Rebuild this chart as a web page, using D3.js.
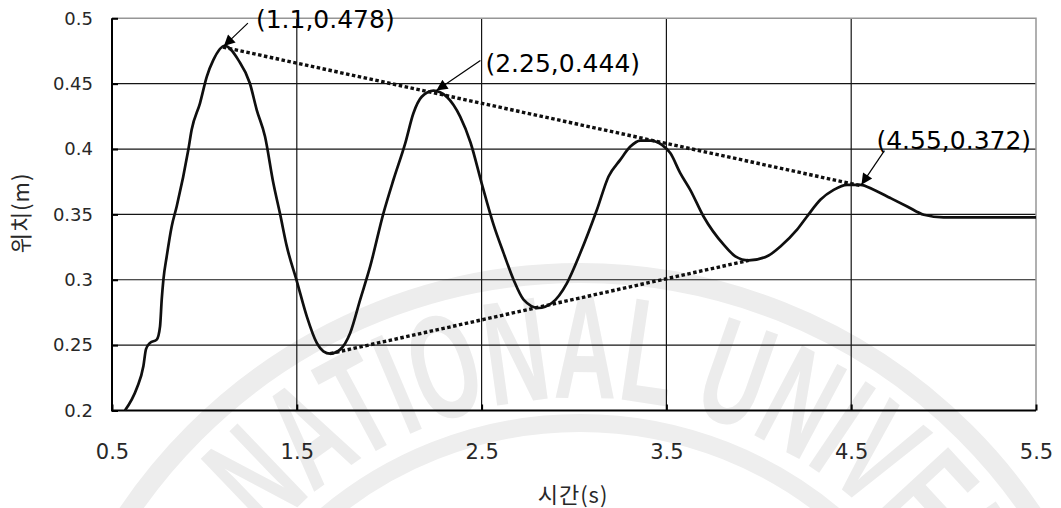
<html>
<head>
<meta charset="utf-8">
<script src="https://d3js.org/d3.v7.min.js"></script>
<style>
body { margin: 0; background: #fff; }
</style>
</head>
<body>
<div id="chart"><svg width="1061" height="508"></svg></div>
<script>

// measured position of the weight (m) against time (s)
var timeData = [0.57, 0.634, 0.67, 0.684, 0.706, 0.742, 0.76, 0.769, 0.778, 0.796, 0.823, 0.85,
	0.913, 0.931, 0.976, 1.013, 1.048, 1.11, 1.184, 1.246, 1.283, 1.328, 1.373, 1.41, 1.446,
	1.5, 1.554, 1.608, 1.644, 1.68, 1.734, 1.789, 1.843, 1.897, 1.969, 2.023, 2.087, 2.131,
	2.176, 2.24, 2.311, 2.384, 2.44, 2.5, 2.565, 2.619, 2.673, 2.727, 2.808, 2.88, 2.962,
	3.034, 3.124, 3.187, 3.25, 3.305, 3.359, 3.413, 3.476, 3.521, 3.575, 3.629, 3.701, 3.81,
	3.873, 3.945, 4.053, 4.117, 4.207, 4.261, 4.333, 4.405, 4.478, 4.55, 4.622, 4.712, 4.803,
	4.893, 5.0, 5.5];
var posData = [0.2, 0.217, 0.234, 0.247, 0.2517, 0.2542, 0.2644, 0.2848, 0.3, 0.3178, 0.3408, 0.356,
	0.3994, 0.4147, 0.435, 0.4554, 0.468, 0.479, 0.468, 0.4503, 0.43, 0.4096, 0.374, 0.35, 0.3255,
	0.299, 0.272, 0.2517, 0.2453, 0.2435, 0.2466, 0.2593, 0.2848, 0.3102, 0.351, 0.3765, 0.4045, 0.4274,
	0.44, 0.4447, 0.44, 0.4248, 0.405, 0.374, 0.342, 0.3204, 0.3, 0.2848, 0.2784, 0.2822, 0.2975,
	0.3204, 0.3535, 0.379, 0.3917, 0.4019, 0.4065, 0.4065, 0.4032, 0.3969, 0.3816, 0.3688, 0.3484, 0.3268,
	0.3179, 0.3148, 0.3186, 0.3255, 0.3383, 0.3484, 0.3612, 0.3688, 0.3726, 0.3726, 0.3688, 0.3625, 0.3561,
	0.3497, 0.3477, 0.3477];

// dotted envelope lines (peaks and valleys)
var upperEnvT = [1.1, 4.55];
var upperEnvV = [0.478, 0.372];
var lowerEnvT = [1.68, 3.945];
var lowerEnvV = [0.2435, 0.3148];

// annotated peaks
var peakT = [1.1, 2.25, 4.55];
var peakV = [0.478, 0.444, 0.372];
var peakLabels = ["(1.1,0.478)", "(2.25,0.444)", "(4.55,0.372)"];

var xTicks = [0.5, 1.5, 2.5, 3.5, 4.5, 5.5];
var yTicks = [0.2, 0.25, 0.3, 0.35, 0.4, 0.45, 0.5];
var xTitle = "시간(s)";
var yTitle = "위치(m)";

drawChart();

function drawChart() {
	var svg = d3.select("#chart").select("svg");
	var plotLeft = 112, plotRight = 1036, plotTop = 18.3, plotBottom = 410.5;
	var tickFont = "'DejaVu Sans', sans-serif";
	var textGray = "rgb(40,40,40)";

	var x = d3.scaleLinear().domain([0.5, 5.5]).range([plotLeft, plotRight]);
	var y = d3.scaleLinear().domain([0.2, 0.5]).range([plotBottom, plotTop]);

	// faint seal watermark in the background
	var wm = svg.append("g").attr("class", "watermark");
	var cx = 580, cy = 818;
	wm.append("circle").attr("cx", cx).attr("cy", cy).attr("r", 545)
		.attr("fill", "none").attr("stroke", "rgb(237,237,237)").attr("stroke-width", 20);
	wm.append("circle").attr("cx", cx).attr("cy", cy).attr("r", 395)
		.attr("fill", "none").attr("stroke", "rgb(238,238,238)").attr("stroke-width", 18);
	var r = 420, a0 = -48 * Math.PI / 180, a1 = 86 * Math.PI / 180;
	wm.append("path")
		.attr("id", "sealArc")
		.attr("fill", "none")
		.attr("d", "M" + (cx + r * Math.sin(a0)) + "," + (cy - r * Math.cos(a0)) +
			" A" + r + "," + r + " 0 0 1 " + (cx + r * Math.sin(a1)) + "," + (cy - r * Math.cos(a1)));
	wm.append("text")
		.attr("font-family", "'Liberation Sans', sans-serif")
		.attr("font-weight", "bold")
		.attr("font-size", 148)
		.attr("fill", "rgb(236,236,236)")
		.append("textPath")
		.attr("href", "#sealArc")
		.attr("textLength", r * (a1 - a0))
		.attr("lengthAdjust", "spacingAndGlyphs")
		.text("NATIONAL UNIVERSITY");

	// horizontal grid
	svg.append("g").selectAll("line")
		.data(yTicks.filter(function (d) { return d > 0.2 && d < 0.5; }))
		.enter().append("line")
		.attr("x1", plotLeft).attr("x2", plotRight)
		.attr("y1", function (d) { return y(d); })
		.attr("y2", function (d) { return y(d); })
		.attr("stroke", "rgb(20,20,20)")
		.attr("stroke-width", 1.2);
	// vertical grid
	svg.append("g").selectAll("line")
		.data(xTicks.filter(function (d) { return d > 0.5 && d < 5.5; }))
		.enter().append("line")
		.attr("x1", function (d) { return x(d); })
		.attr("x2", function (d) { return x(d); })
		.attr("y1", plotTop).attr("y2", plotBottom)
		.attr("stroke", "rgb(20,20,20)")
		.attr("stroke-width", 1.2);

	// top and right border (gray)
	svg.append("path")
		.attr("d", "M" + plotLeft + "," + plotTop + "H" + plotRight + "V" + plotBottom)
		.attr("fill", "none")
		.attr("stroke", "rgb(150,150,150)")
		.attr("stroke-width", 1.5);

	// y axis
	var yAxis = svg.append("g")
		.attr("transform", "translate(" + plotLeft + ",0)")
		.call(d3.axisLeft(y).tickValues(yTicks).tickSize(-6).tickPadding(19)
			.tickFormat(function (d) { return String(d); }));
	yAxis.select(".domain").remove();
	yAxis.selectAll(".tick line").attr("stroke", "#000").attr("stroke-width", 2);
	yAxis.selectAll(".tick text")
		.attr("font-family", tickFont).attr("font-size", 18).attr("fill", textGray);

	// x axis
	var xAxis = svg.append("g")
		.attr("transform", "translate(0," + plotBottom + ")")
		.call(d3.axisBottom(x).tickValues(xTicks).tickSize(-6).tickPadding(34)
			.tickFormat(function (d) { return String(d); }));
	xAxis.select(".domain").remove();
	xAxis.selectAll(".tick line").attr("stroke", "#000").attr("stroke-width", 2);
	xAxis.selectAll(".tick text")
		.attr("font-family", tickFont).attr("font-size", 21).attr("fill", textGray);

	// left and bottom axis lines
	svg.append("path")
		.attr("d", "M" + plotLeft + "," + plotTop + "V" + plotBottom + "H" + plotRight)
		.attr("fill", "none")
		.attr("stroke", "#000")
		.attr("stroke-width", 2);

	// axis titles
	svg.append("text")
		.attr("x", (plotLeft + plotRight) / 2 - 1)
		.attr("y", 503)
		.attr("text-anchor", "middle")
		.attr("font-family", "'Noto Sans CJK KR', sans-serif")
		.attr("font-size", 22)
		.attr("letter-spacing", 1)
		.attr("fill", textGray)
		.text(xTitle);
	svg.append("text")
		.attr("transform", "translate(29,213) rotate(-90)")
		.attr("text-anchor", "middle")
		.attr("font-family", "'Noto Sans CJK KR', sans-serif")
		.attr("font-size", 22)
		.attr("letter-spacing", 1)
		.attr("fill", textGray)
		.text(yTitle);

	// envelope dotted lines
	var envLine = d3.line().x(function (d) { return x(d[0]); }).y(function (d) { return y(d[1]); });
	[[upperEnvT, upperEnvV], [lowerEnvT, lowerEnvV]].forEach(function (env) {
		svg.append("path")
			.datum(d3.zip(env[0], env[1]))
			.attr("d", envLine)
			.attr("fill", "none")
			.attr("stroke", "rgb(15,15,15)")
			.attr("stroke-width", 3.4)
			.attr("stroke-dasharray", "3.5,2.5");
	});

	// position curve
	var line = d3.line()
		.x(function (d) { return x(d[0]); })
		.y(function (d) { return y(d[1]); })
		.curve(d3.curveMonotoneX);
	svg.append("path")
		.datum(d3.zip(timeData, posData))
		.attr("d", line)
		.attr("fill", "none")
		.attr("stroke", "rgb(15,15,15)")
		.attr("stroke-width", 2.7)
		.attr("stroke-linejoin", "round");

	// arrow marker
	svg.append("defs").append("marker")
		.attr("id", "arrowHead")
		.attr("viewBox", "0 0 10 10")
		.attr("refX", 10).attr("refY", 5)
		.attr("markerWidth", 14).attr("markerHeight", 11)
		.attr("markerUnits", "userSpaceOnUse")
		.attr("orient", "auto")
		.append("path")
		.attr("d", "M0,0L10,5L0,10z")
		.attr("fill", "#000");

	// annotations: arrow tail offset and label offset from the peak
	var arrowTail = [[25, -24], [45, -31], [24, -35]];
	var labelPos = [[33, -19], [50, -20], [16, -37]];
	peakT.forEach(function (t, i) {
		var px = x(t), py = y(peakV[i]);
		svg.append("line")
			.attr("x1", px + arrowTail[i][0]).attr("y1", py + arrowTail[i][1])
			.attr("x2", px + 1).attr("y2", py - 1)
			.attr("stroke", "#000")
			.attr("stroke-width", 1.2)
			.attr("marker-end", "url(#arrowHead)");
		svg.append("text")
			.attr("x", px + labelPos[i][0])
			.attr("y", py + labelPos[i][1])
			.attr("font-family", tickFont)
			.attr("font-size", 25)
			.attr("fill", "#000")
			.text(peakLabels[i]);
	});
}

</script>
</body>
</html>
